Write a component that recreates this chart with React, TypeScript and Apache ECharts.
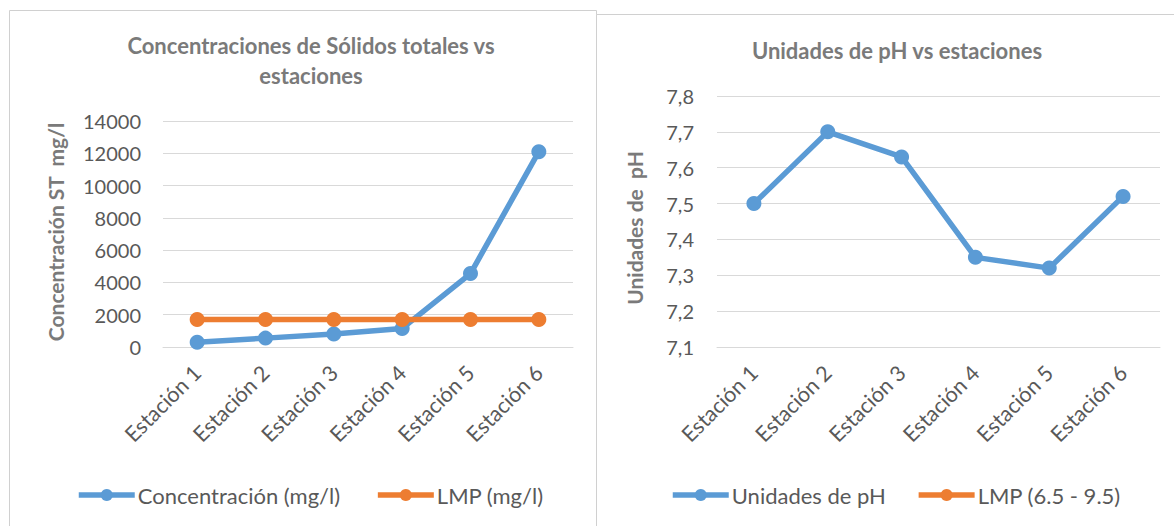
import React, { useEffect, useRef } from "react";
import * as echarts from "echarts";

// Sampling stations along the x axis of both charts
const stations = ["Estación 1", "Estación 2", "Estación 3", "Estación 4", "Estación 5", "Estación 6"];

// Total solids concentration (mg/l) and its maximum permissible limit
const solidsConcentration = [300, 550, 800, 1150, 4550, 12100];
const solidsLimit = [1700, 1700, 1700, 1700, 1700, 1700];

// pH readings; the 6.5 - 9.5 limit lies outside the plotted range
const phValues = [7.5, 7.7, 7.63, 7.35, 7.32, 7.52];
const phLimit: number[] = [];

// Axis ranges
const solidsAxis = { min: 0, max: 14000, interval: 2000 };
const phAxis = { min: 7.1, max: 7.8, interval: 0.1 };

const FONT = "Lato, 'Open Sans', sans-serif";
const BLUE = "#5b9bd5";
const ORANGE = "#ed7d31";
const GRID_LINE = "#d9d9d9";
const TICK_TEXT = "#595959";
const TITLE_TEXT = "#7a7a7a";
const LINE_WIDTH = 5.5;

export default function App() {
  const ref = useRef<HTMLDivElement>(null);

  useEffect(() => {
    if (!ref.current) return;
    const chart = echarts.init(ref.current, undefined, { renderer: "svg" });

    const lineSeries = (name: string, data: number[], color: string, idx: number) => ({
      name,
      type: "line",
      data,
      xAxisIndex: idx,
      yAxisIndex: idx,
      symbol: "circle",
      symbolSize: 15,
      lineStyle: { color, width: LINE_WIDTH },
      itemStyle: { color },
      emphasis: { disabled: true },
    });

    const xAxisCommon = {
      type: "category",
      data: stations,
      boundaryGap: true,
      axisLine: { show: true, lineStyle: { color: GRID_LINE, width: 1 } },
      axisTick: { show: false },
      axisLabel: {
        rotate: 45,
        margin: 22,
        fontSize: 21.5,
        color: TICK_TEXT,
        fontFamily: FONT,
        interval: 0,
      },
    };

    const yAxisCommon = {
      type: "value",
      axisLine: { show: false },
      axisTick: { show: false },
      splitLine: { lineStyle: { color: GRID_LINE, width: 1 } },
    };

    const legendCommon = {
      top: 484,
      padding: 0,
      orient: "horizontal",
      itemWidth: 56,
      itemHeight: 15,
      lineStyle: { width: LINE_WIDTH },
      textStyle: { fontSize: 22, color: TICK_TEXT, fontFamily: FONT, padding: [0, 0, 0, -2] },
    };

    chart.setOption({
      animation: false,
      backgroundColor: "#ffffff",
      textStyle: { fontFamily: FONT },
      title: [
        {
          text: "Concentraciones de Sólidos totales vs\nestaciones",
          left: 306,
          top: 25,
          textAlign: "center",
          textStyle: { fontSize: 22, fontWeight: "bold", color: TITLE_TEXT, lineHeight: 30, fontFamily: FONT },
        },
        {
          text: "Unidades de pH vs estaciones",
          left: 892,
          top: 34,
          textAlign: "center",
          textStyle: { fontSize: 22, fontWeight: "bold", color: TITLE_TEXT, fontFamily: FONT },
        },
      ],
      legend: [
        { ...legendCommon, data: ["Concentración (mg/l)", "LMP (mg/l)"], left: 76, itemGap: 35 },
        { ...legendCommon, data: ["Unidades de pH", "LMP (6.5 - 9.5)"], left: 670, itemGap: 30 },
      ],
      grid: [
        { left: 163, top: 121, width: 410, height: 226, containLabel: false },
        { left: 717, top: 96, width: 443, height: 251, containLabel: false },
      ],
      xAxis: [
        { ...xAxisCommon, gridIndex: 0 },
        { ...xAxisCommon, gridIndex: 1 },
      ],
      yAxis: [
        {
          ...yAxisCommon,
          gridIndex: 0,
          ...solidsAxis,
          axisLabel: {
            margin: 22,
            fontSize: 20,
            color: TICK_TEXT,
            fontFamily: FONT,
            formatter: (v: number) => String(v),
          },
        },
        {
          ...yAxisCommon,
          gridIndex: 1,
          ...phAxis,
          axisLabel: {
            margin: 23,
            fontSize: 20,
            color: TICK_TEXT,
            fontFamily: FONT,
            formatter: (v: number) => v.toFixed(1).replace(".", ","),
          },
        },
      ],
      series: [
        lineSeries("Concentración (mg/l)", solidsConcentration, BLUE, 0),
        lineSeries("LMP (mg/l)", solidsLimit, ORANGE, 0),
        lineSeries("Unidades de pH", phValues, BLUE, 1),
        lineSeries("LMP (6.5 - 9.5)", phLimit, ORANGE, 1),
      ],
      graphic: [
        {
          type: "rect",
          silent: true,
          z: -10,
          shape: { x: 9.5, y: 10.5, width: 587, height: 540 },
          style: { fill: "none", stroke: "#d0d0d0", lineWidth: 1 },
        },
        {
          type: "rect",
          silent: true,
          z: -9,
          shape: { x: 596.5, y: 14.5, width: 620, height: 540 },
          style: { fill: "#ffffff", stroke: "#d0d0d0", lineWidth: 1 },
        },
        {
          type: "text",
          silent: true,
          x: 55,
          y: 232,
          rotation: Math.PI / 2,
          style: {
            text: "Concentración ST  mg/l",
            fontSize: 21,
            fontWeight: "bold",
            fill: TITLE_TEXT,
            fontFamily: FONT,
            align: "center",
            verticalAlign: "middle",
          },
        },
        {
          type: "text",
          silent: true,
          x: 634,
          y: 228,
          rotation: Math.PI / 2,
          style: {
            text: "Unidades de  pH",
            fontSize: 21,
            fontWeight: "bold",
            fill: TITLE_TEXT,
            fontFamily: FONT,
            align: "center",
            verticalAlign: "middle",
          },
        },
      ],
    });

    return () => chart.dispose();
  }, []);

  return (
    <div
      ref={ref}
      style={{ position: "absolute", left: 0, top: 0, width: 1174, height: 526, background: "#fff" }}
    />
  );
}
